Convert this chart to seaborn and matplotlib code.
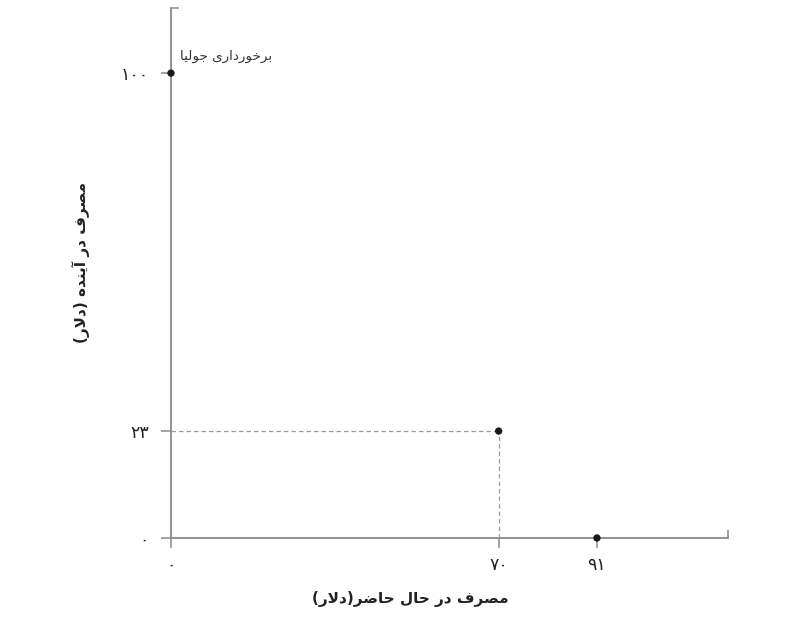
import matplotlib
matplotlib.use('Agg')
import matplotlib.pyplot as plt
import seaborn as sns
import pandas as pd

# data
points_x = [0, 70, 91]
points_y = [100, 23, 0]
x_ticks = [0, 70, 91]
y_ticks = [0, 23, 100]
x_max = 119
y_max = 114
guide_x = 70
guide_y = 23
point_label = 'برخورداری جولیا'
x_label = 'مصرف در حال حاضر(دلار)'
y_label = 'مصرف در آینده (دلار)'

# simple persian shaping (matplotlib does no shaping / rtl)
forms = {  # isolated, final, initial, medial
    'ا': ('\uFE8D', '\uFE8E', None, None),
    'آ': ('\uFE81', '\uFE82', None, None),
    'د': ('\uFEA9', '\uFEAA', None, None),
    'ر': ('\uFEAD', '\uFEAE', None, None),
    'و': ('\uFEED', '\uFEEE', None, None),
    'ب': ('\uFE8F', '\uFE90', '\uFE91', '\uFE92'),
    'ج': ('\uFE9D', '\uFE9E', '\uFE9F', '\uFEA0'),
    'ح': ('\uFEA1', '\uFEA2', '\uFEA3', '\uFEA4'),
    'خ': ('\uFEA5', '\uFEA6', '\uFEA7', '\uFEA8'),
    'ص': ('\uFEB9', '\uFEBA', '\uFEBB', '\uFEBC'),
    'ض': ('\uFEBD', '\uFEBE', '\uFEBF', '\uFEC0'),
    'ف': ('\uFED1', '\uFED2', '\uFED3', '\uFED4'),
    'ل': ('\uFEDD', '\uFEDE', '\uFEDF', '\uFEE0'),
    'م': ('\uFEE1', '\uFEE2', '\uFEE3', '\uFEE4'),
    'ن': ('\uFEE5', '\uFEE6', '\uFEE7', '\uFEE8'),
    'ه': ('\uFEE9', '\uFEEA', '\uFEEB', '\uFEEC'),
    'ی': ('\uFBFC', '\uFBFD', '\uFBFE', '\uFBFF'),
}

def dual(c):
    return c in forms and forms[c][2] is not None

def shape(s):
    s = s.replace('لا', '\x01')  # lam-alef
    out = []
    for i, c in enumerate(s):
        prev = s[i - 1] if i > 0 else ''
        nxt = s[i + 1] if i + 1 < len(s) else ''
        joins_prev = dual(prev)
        if c == '\x01':
            out.append('\uFEFC' if joins_prev else '\uFEFB')
            continue
        if c not in forms:
            out.append({'(': ')', ')': '('}.get(c, c))
            continue
        joins_next = dual(c) and (nxt in forms or nxt == '\x01')
        iso, fin, ini, med = forms[c]
        if joins_prev and joins_next:
            out.append(med)
        elif joins_prev:
            out.append(fin)
        elif joins_next:
            out.append(ini)
        else:
            out.append(iso)
    return ''.join(reversed(out))

fa_digits = str.maketrans('0123456789', '۰۱۲۳۴۵۶۷۸۹')

sns.set_style('white')
plt.rcParams['font.family'] = ['DejaVu Sans', 'Noto Sans']

fig = plt.figure(figsize=(8.1, 6.19), dpi=100)
ax = fig.add_axes([0.2111, 0.1309, 0.6877, 0.8561])

df = pd.DataFrame({'x': points_x, 'y': points_y})
ax.plot([0, guide_x], [guide_y, guide_y], color='#999999', lw=0.9, ls=(0, (3.5, 2.5)))
ax.plot([guide_x, guide_x], [0, guide_y], color='#999999', lw=0.9, ls=(0, (3.5, 2.5)))
sns.scatterplot(data=df, x='x', y='y', ax=ax, color='#1a1a1a', s=28,
                edgecolor='none', clip_on=False, zorder=5)

ax.text(2, 103.6, shape(point_label), fontsize=9.7, color='#333333',
        ha='left', va='center')

ax.set_xlim(0, x_max)
ax.set_ylim(0, y_max)
ax.set_xticks(x_ticks)
ax.set_xticklabels([str(v).translate(fa_digits) for v in x_ticks])
ax.set_yticks(y_ticks)
ax.set_yticklabels([str(v).translate(fa_digits) for v in y_ticks])
ax.set_xticks([x_max], minor=True)
ax.set_yticks([y_max], minor=True)

for side in ['top', 'right']:
    ax.spines[side].set_visible(False)
for side in ['left', 'bottom']:
    ax.spines[side].set_color('#8a8a8a')
    ax.spines[side].set_linewidth(1.3)

ax.tick_params(which='both', bottom=True, left=True)
ax.tick_params(which='major', direction='out', length=7, width=1.1,
               color='#8a8a8a', labelsize=12.5, labelcolor='#222222')
ax.tick_params(axis='x', which='major', pad=6)
ax.tick_params(axis='y', which='major', pad=9)
ax.tick_params(which='minor', direction='in', length=6, width=1.1,
               color='#8a8a8a')

ax.set_xlabel(shape(x_label), fontsize=11, fontweight='bold',
              color='#222222', va='center')
ax.xaxis.set_label_coords(0.429, -0.115)
ax.set_ylabel(shape(y_label), fontsize=11, fontweight='bold',
              color='#222222', va='center')
ax.yaxis.set_label_coords(-0.162, 0.52)

fig.savefig('out.png', dpi=100)
